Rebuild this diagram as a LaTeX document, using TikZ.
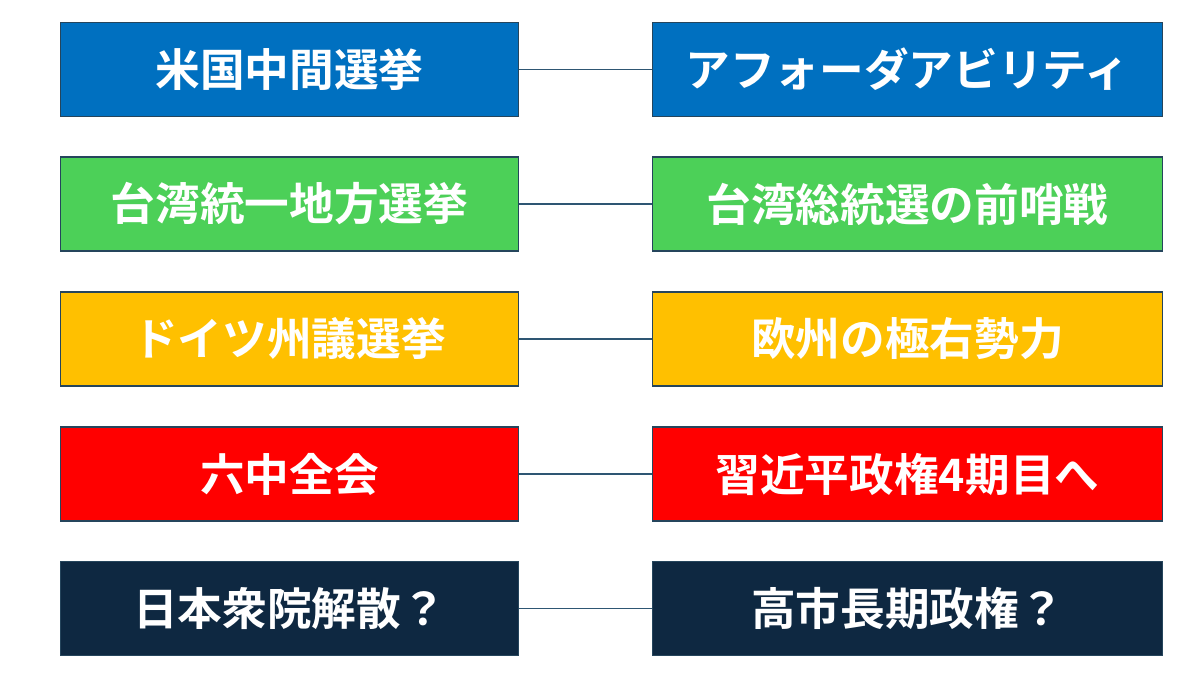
\documentclass[tikz,border=0pt]{standalone}
\usepackage{fontspec}
\setmainfont{Noto Sans CJK JP}[BoldFont={Noto Sans CJK JP Bold}]
\definecolor{cblue}{HTML}{0070C0}
\definecolor{cgreen}{HTML}{4CD058}
\definecolor{cyellow}{HTML}{FFC000}
\definecolor{cred}{HTML}{FF0000}
\definecolor{cnavy}{HTML}{0E2841}
\definecolor{cline}{HTML}{2E5673}
\begin{document}
\begin{tikzpicture}[x=0.75pt,y=-0.75pt,
  box/.style={draw=cline!80!black,line width=0.9pt,minimum width=345pt,minimum height=70.5pt,inner sep=0pt,text=white,font=\bfseries\fontsize{33.5}{38}\selectfont},
  lbox/.style={box,minimum width=344pt},
  rbox/.style={box,minimum width=383pt},
  conn/.style={draw=cline,line width=0.9pt}]
\useasboundingbox (0,0) rectangle (1200,675);
\fill[white] (0,0) rectangle (1200,675);
\node[lbox,fill=cblue] (l1) at (289.5,69.5) {米国中間選挙};
\node[rbox,fill=cblue] (r1) at (907.5,69.5) {アフォーダアビリティ};
\node[lbox,fill=cgreen] (l2) at (289.5,204) {台湾統一地方選挙};
\node[rbox,fill=cgreen] (r2) at (907.5,204) {台湾総統選の前哨戦};
\node[lbox,fill=cyellow] (l3) at (289.5,339) {ドイツ州議選挙};
\node[rbox,fill=cyellow] (r3) at (907.5,339) {欧州の極右勢力};
\node[lbox,fill=cred] (l4) at (289.5,474) {六中全会};
\node[rbox,fill=cred] (r4) at (907.5,474) {習近平政権4期目へ};
\node[lbox,fill=cnavy] (l5) at (289.5,608.5) {日本衆院解散？};
\node[rbox,fill=cnavy] (r5) at (907.5,608.5) {高市長期政権？};
\foreach \i in {1,...,5} \draw[conn] (l\i.east) -- (r\i.west);
\end{tikzpicture}
\end{document}
